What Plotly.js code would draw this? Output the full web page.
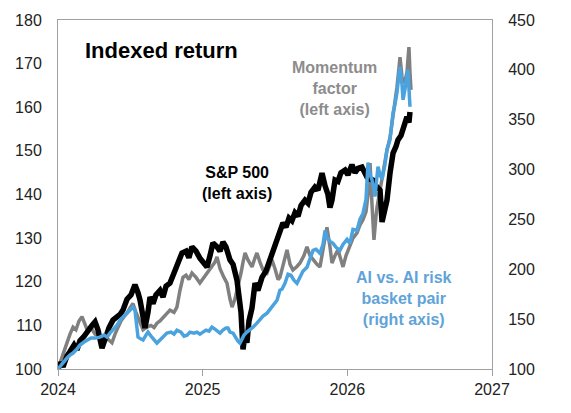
<!DOCTYPE html>
<html>
<head>
<meta charset="utf-8">
<script src="https://cdn.plot.ly/plotly-3.0.1.min.js"></script>
<style>html,body{margin:0;padding:0;background:#fff;}#chart{width:571px;height:413px;}</style>
</head>
<body>
<div id="chart"></div>
<script>
// S&P 500 (left axis), decimal years
const spxDates = [2024.000,2024.021,2024.035,2024.062,2024.083,2024.111,2024.131,2024.152,2024.180,2024.207,2024.235,2024.256,2024.276,2024.304,2024.325,2024.353,2024.380,2024.408,2024.429,2024.449,2024.477,2024.505,2024.532,2024.553,2024.567,2024.588,2024.601,2024.622,2024.636,2024.657,2024.677,2024.705,2024.726,2024.747,2024.774,2024.802,2024.829,2024.857,2024.885,2024.905,2024.926,2024.954,2024.981,2025.002,2025.030,2025.051,2025.071,2025.099,2025.120,2025.140,2025.161,2025.189,2025.210,2025.237,2025.251,2025.265,2025.279,2025.293,2025.306,2025.320,2025.341,2025.362,2025.382,2025.410,2025.438,2025.465,2025.486,2025.514,2025.534,2025.555,2025.576,2025.597,2025.617,2025.638,2025.659,2025.680,2025.707,2025.728,2025.749,2025.776,2025.797,2025.825,2025.846,2025.866,2025.880,2025.894,2025.915,2025.935,2025.956,2025.984,2026.004,2026.032,2026.053,2026.074,2026.101,2026.122,2026.136,2026.157,2026.177,2026.198,2026.226,2026.240,2026.253,2026.274,2026.295,2026.316,2026.336,2026.350,2026.371,2026.385,2026.398,2026.412,2026.426,2026.433];
const spxValues = [100,101.5,100.5,103,104,105.5,104.4,106.5,107.5,108.5,110,110.8,109,104.8,107,109.5,111.2,112,112.5,113.5,116,117,119.3,117.5,115.8,112,109.4,113,116.5,115,117,118,116.5,119,119.7,122,124,126.6,127,125.5,128,127,125.4,124.5,123.4,126,128.9,128,127,129.1,128,125,124,120.4,116,113,104.5,108,106,111,114,119.7,118,121,122.5,125,127,128.9,131,133.5,132.5,134.6,134,135.8,135,137.5,138.7,138,140.5,141.7,141,144.9,142,140,137,138.7,143.3,143,145,145.6,144.5,146.8,145,146,146.3,145,144,143.5,143.3,142,141,133.7,136,138.7,144.9,149.5,151,152.5,153.5,154.8,156,157.8,156.5,158.9];

// Momentum factor (left axis)
const momDates = [2024.000,2024.028,2024.048,2024.062,2024.083,2024.104,2024.124,2024.145,2024.166,2024.187,2024.207,2024.228,2024.256,2024.283,2024.311,2024.339,2024.373,2024.394,2024.408,2024.435,2024.456,2024.477,2024.498,2024.518,2024.539,2024.567,2024.588,2024.615,2024.643,2024.664,2024.684,2024.705,2024.733,2024.753,2024.774,2024.802,2024.822,2024.843,2024.864,2024.885,2024.905,2024.926,2024.954,2024.981,2025.009,2025.037,2025.064,2025.085,2025.099,2025.120,2025.147,2025.168,2025.189,2025.203,2025.223,2025.244,2025.265,2025.279,2025.293,2025.313,2025.341,2025.362,2025.375,2025.396,2025.417,2025.445,2025.465,2025.479,2025.500,2025.521,2025.534,2025.562,2025.583,2025.604,2025.624,2025.652,2025.673,2025.700,2025.721,2025.742,2025.763,2025.790,2025.811,2025.832,2025.859,2025.880,2025.894,2025.915,2025.935,2025.956,2025.970,2025.991,2026.018,2026.039,2026.067,2026.087,2026.108,2026.129,2026.143,2026.157,2026.170,2026.184,2026.198,2026.205,2026.226,2026.246,2026.260,2026.274,2026.295,2026.309,2026.329,2026.343,2026.357,2026.364,2026.378,2026.385,2026.398,2026.412,2026.419,2026.426,2026.433,2026.440];
const momValues = [100,103,105,106,108,109.6,109,111,112,110,108.5,109.5,108,107.5,106.6,107,106,108,109,111,112,112.8,114,115,113,110.5,109,109.6,110,109.5,110.5,111,112,112.8,113.5,113,114.2,118,121,121.5,120.5,122,121,119.7,121,122,123.5,124.5,125.7,123,121,119.7,116,114.2,116,118.8,122,124.5,126.6,125,123.4,125.5,126.6,124.5,122.7,122,124,125,123,120.5,121,125,127.3,124,122.7,123.5,124.3,126,128,126,125,124,123.4,127,132.5,128,124.3,126,127.3,125,123.4,126,128,130,131.2,133,134.2,136,140,147.2,138,129.6,135,137,141,144.9,147,150.2,153,156.4,160,164.6,169,171.5,167,165.6,166,167.9,171,173.8,168,164];

// AI vs. AI risk basket pair (right axis)
const aiDates = [2024.000,2024.021,2024.041,2024.062,2024.083,2024.104,2024.131,2024.152,2024.180,2024.200,2024.228,2024.256,2024.290,2024.318,2024.339,2024.359,2024.380,2024.408,2024.429,2024.449,2024.477,2024.498,2024.518,2024.532,2024.546,2024.553,2024.574,2024.588,2024.608,2024.622,2024.643,2024.664,2024.684,2024.705,2024.733,2024.753,2024.781,2024.802,2024.822,2024.850,2024.871,2024.892,2024.912,2024.940,2024.961,2024.981,2025.002,2025.023,2025.044,2025.064,2025.085,2025.106,2025.120,2025.140,2025.161,2025.175,2025.189,2025.210,2025.230,2025.244,2025.258,2025.272,2025.286,2025.306,2025.327,2025.348,2025.375,2025.396,2025.417,2025.445,2025.465,2025.486,2025.514,2025.534,2025.548,2025.569,2025.590,2025.610,2025.631,2025.652,2025.673,2025.693,2025.721,2025.742,2025.763,2025.783,2025.811,2025.832,2025.846,2025.859,2025.880,2025.901,2025.922,2025.949,2025.970,2025.998,2026.018,2026.039,2026.067,2026.087,2026.108,2026.129,2026.143,2026.157,2026.170,2026.191,2026.212,2026.226,2026.240,2026.260,2026.274,2026.295,2026.316,2026.329,2026.343,2026.357,2026.364,2026.378,2026.385,2026.398,2026.412,2026.419,2026.433];
const aiValues = [100,104,108,111,114,116,120,124,127,129,131,131,132,134,132,136,139,144,149,152,156,159,162,159,145,132,130,129,134,137,133,130,126,129,133,136,137,135,139,137,133,134,137,136,137,135,137,139,138,142,140,137,136,139,141,141,137,136,131,128,126,130,134,137,139,142,146,150,153,156,160,164,169,179,180,186,195,194,189,186,192,198,202,210,219,220,216,225,239,232,228,226,222,219,225,230,226,240,239,250,256,270,307,295,290,273,303,295,290,305,320,330,357,365,377,395,403,385,370,380,393,400,363];

const leftTicks = [100,110,120,130,140,150,160,170,180];
const rightTicks = [100,150,200,250,300,350,400,450];
const yearTicks = [2024,2025,2026,2027];

const FONT = 'Liberation Sans, Arial, sans-serif';
const axisColor = '#a0a0a0';

const traces = [
  {x: momDates, y: momValues, type: 'scatter', mode: 'lines', name: 'Momentum factor',
   line: {color: '#808080', width: 3.5}, yaxis: 'y'},
  {x: spxDates, y: spxValues, type: 'scatter', mode: 'lines', name: 'S&P 500',
   line: {color: '#000000', width: 5.5}, yaxis: 'y'},
  {x: aiDates, y: aiValues, type: 'scatter', mode: 'lines', name: 'AI vs. AI risk basket pair',
   line: {color: '#4aa3df', width: 3.5}, yaxis: 'y2'}
];

const layout = {
  width: 571, height: 413,
  margin: {l: 58, r: 79, t: 20, b: 44},
  paper_bgcolor: '#ffffff', plot_bgcolor: '#ffffff',
  showlegend: false,
  font: {family: FONT, color: '#222222', size: 16},
  xaxis: {
    range: [2024, 2027], tickvals: yearTicks, ticktext: yearTicks.map(String),
    showgrid: false, zeroline: false, showline: true, mirror: true,
    linecolor: axisColor, linewidth: 1,
    ticks: 'outside', ticklen: 6, tickcolor: axisColor,
    tickfont: {family: FONT, size: 16, color: '#222222'}
  },
  yaxis: {
    range: [100, 180], tickvals: leftTicks,
    showgrid: false, zeroline: false, showline: true, mirror: true,
    linecolor: axisColor, linewidth: 1,
    ticks: 'outside', ticklen: 12, tickcolor: 'rgba(0,0,0,0)',
    tickfont: {family: FONT, size: 16, color: '#222222'}
  },
  yaxis2: {
    range: [100, 450], tickvals: rightTicks, overlaying: 'y', side: 'right',
    showgrid: false, zeroline: false, showline: false,
    ticks: 'outside', ticklen: 12, tickcolor: 'rgba(0,0,0,0)',
    tickfont: {family: FONT, size: 16, color: '#222222'}
  },
  annotations: [
    {text: '<b>Indexed return</b>', xref: 'paper', yref: 'paper', x: 0.058, y: 0.914,
     xanchor: 'left', yanchor: 'middle', showarrow: false,
     font: {family: FONT, size: 22, color: '#000000'}},
    {text: '<b>S&P 500<br>(left axis)</b>', xref: 'paper', yref: 'paper', x: 0.412, y: 0.533,
     xanchor: 'center', yanchor: 'middle', align: 'center', showarrow: false,
     font: {family: FONT, size: 16, color: '#000000'}},
    {text: '<b>Momentum<br>factor<br>(left axis)</b>', xref: 'paper', yref: 'paper', x: 0.638, y: 0.805,
     xanchor: 'center', yanchor: 'middle', align: 'center', showarrow: false,
     font: {family: FONT, size: 16, color: '#8c8c8c'}},
    {text: '<b>AI vs. AI risk<br>basket pair<br>(right axis)</b>', xref: 'paper', yref: 'paper', x: 0.797, y: 0.201,
     xanchor: 'center', yanchor: 'middle', align: 'center', showarrow: false,
     font: {family: FONT, size: 16, color: '#5fa3d9'}}
  ]
};

Plotly.newPlot('chart', traces, layout, {staticPlot: true, displayModeBar: false});
</script>
</body>
</html>
